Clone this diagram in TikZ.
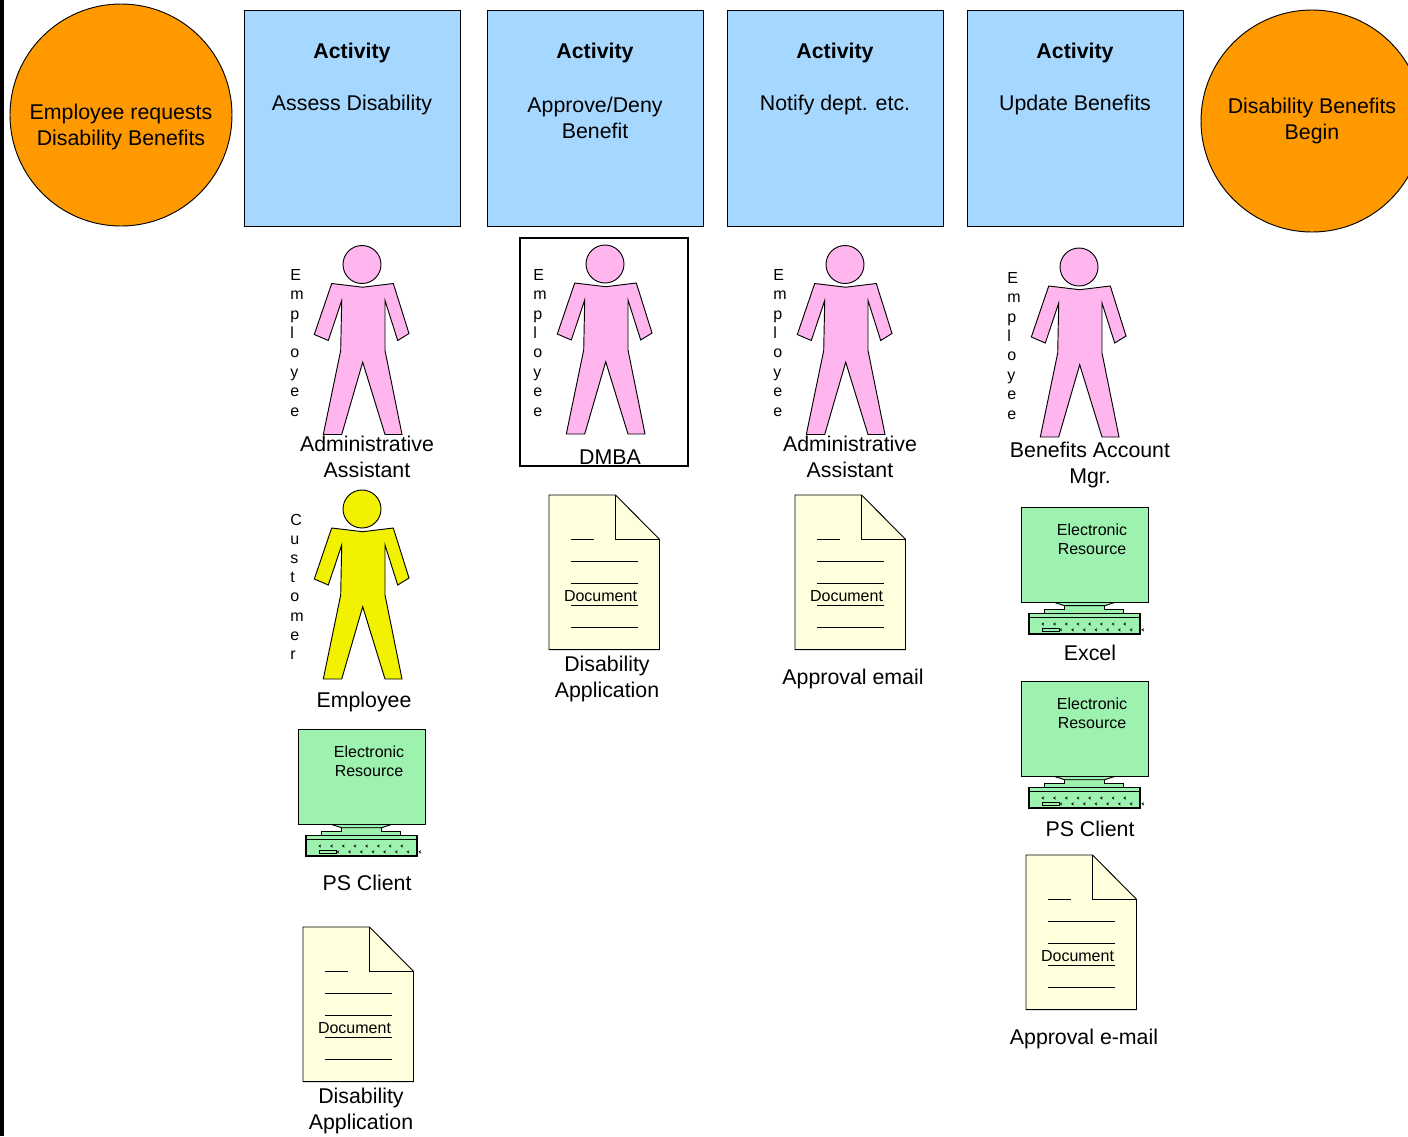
\documentclass[tikz,border=0pt]{standalone}
\usepackage{fontspec}
\setmainfont{Liberation Sans}
\definecolor{orangeC}{HTML}{FF9900}
\definecolor{blueC}{HTML}{A6D8FF}
\definecolor{pinkC}{HTML}{FFB6EE}
\definecolor{yellowC}{HTML}{F2F200}
\definecolor{greenC}{HTML}{9DF2B0}
\definecolor{creamC}{HTML}{FFFFDD}
\tikzset{
  ln/.style={draw=black,line width=0.7pt,line join=miter},
  lbl/.style={inner sep=0pt,align=center,font=\fontsize{16}{19.5}\selectfont},
  smalltxt/.style={inner sep=0pt,align=center,font=\fontsize{12}{14.5}\selectfont},
  vert/.style={inner sep=0pt,align=left,anchor=north west,font=\fontsize{12}{14.55}\selectfont},
  actbox/.style={ln,fill=blueC},
  evt/.style={ln,fill=orangeC},
}
% #1 name, #2 x of head, #3 y of head, #4 fill
\newcommand{\figperson}[4]{%
  \begin{scope}[shift={(#2,#3)}]
    \draw[ln,fill=#4] (-30.3,19) -- (0.7,22.7) -- (31.3,19) -- (47,69) -- (35.7,76) -- (23,36) -- (23,86)
      -- (40,170) -- (23,170) -- (0.7,97.7) -- (-20.3,170) -- (-38.7,170) -- (-21.3,86) -- (-20.3,36)
      -- (-33.7,76) -- (-47.7,70) -- cycle;
    \node[ln,fill=#4,circle,minimum size=28.5pt,inner sep=0pt] (#1) at (0,0) {};
  \end{scope}}
% #1 name, #2 left, #3 top, #4 dy of text
\newcommand{\figcomputer}[4]{%
  \begin{scope}[shift={(#2,#3)}]
    \draw[ln,fill=greenC] (43.7,98.7) -- (83.7,98.7) -- (83.7,102.7) -- (102,102.7) -- (102,106.7) -- (23.7,106.7) -- (23.7,102.7) -- (43.7,102.7) -- cycle;
    \draw[ln,fill=greenC] (32,95) -- (43.7,98.7) -- (83.7,98.7) -- (95,95) -- cycle;
    \node[ln,fill=greenC,minimum width=95pt,minimum height=71.5pt,inner sep=0pt,anchor=north west] (#1) at (0,0) {};
    \node[smalltxt] (#1t) at (71,32.5+#4) {Electronic\\Resource};
    \draw[ln,fill=greenC,line width=1pt] (8,106.7) rectangle (119,127);
    \draw[ln] (8,110.5) -- (119,110.5);
    \draw[ln] (21.5,121) rectangle (38,124);
    \foreach \k in {0,...,7}{
      \draw[line width=0.5pt] (23+\k*11.7,115.8) -- (21+\k*11.7,117) -- (23+\k*11.7,118.2);
      \draw[line width=0.5pt] (41+\k*11.7,121.6) -- (39+\k*11.7,122.8) -- (41+\k*11.7,124);
    }
  \end{scope}}
% #1 name, #2 left, #3 top
\newcommand{\figdoc}[3]{%
  \begin{scope}[shift={(#2,#3)}]
    \draw[ln,fill=creamC] (0,0) -- (66.5,0) -- (110.5,44.3) -- (110.5,154.6) -- (0,154.6) -- cycle;
    \draw[ln] (66.5,0) -- (66.5,44.3) -- (110.5,44.3);
    \draw[ln] (22.3,44.3) -- (44.7,44.3);
    \draw[ln] (22.3,66) -- (89,66);
    \draw[ln] (22.3,88.3) -- (89,88.3);
    \draw[ln] (22.3,110.6) -- (89,110.6);
    \draw[ln] (22.3,132.6) -- (89,132.6);
    \node[smalltxt] (#1) at (51.5,101.5) {Document};
  \end{scope}}
\begin{document}
\begin{tikzpicture}[x=0.75pt,y=-0.75pt]
\useasboundingbox (0,0) rectangle (1408,1136);
\clip (0,0) rectangle (1408,1136);
\fill[white] (0,0) rectangle (1408,1136);
\fill[black] (0,0) rectangle (4,1136);

\node[evt,circle,minimum size=166.5pt,inner sep=0pt] (start) at (121,115) {};
\node[lbl] (startt) at (121,127) {Employee requests\\Disability Benefits};
\node[evt,circle,minimum size=166.5pt,inner sep=0pt] (finish) at (1312,121) {};
\node[lbl] (finisht) at (1312,120.5) {Disability Benefits\\Begin};

\draw[actbox] (244,10) rectangle (460,226);
\draw[actbox] (487,10) rectangle (703,226);
\draw[actbox] (727,10) rectangle (943,226);
\draw[actbox] (967,10) rectangle (1183,226);
\node[lbl,font=\fontsize{16}{19.5}\selectfont\bfseries] (a1) at (352,53) {Activity};
\node[lbl,font=\fontsize{16}{19.5}\selectfont\bfseries] (a2) at (595,53) {Activity};
\node[lbl,font=\fontsize{16}{19.5}\selectfont\bfseries] (a3) at (835,53) {Activity};
\node[lbl,font=\fontsize{16}{19.5}\selectfont\bfseries] (a4) at (1075,53) {Activity};
\node[lbl] (a1t) at (352,105) {Assess Disability};
\node[lbl] (a2t) at (595,117.5) {Approve/Deny\\Benefit};
\node[lbl] (a3t) at (835,105) {Notify dept. etc.};
\node[lbl] (a4t) at (1075,105) {Update Benefits};

\draw[line width=1.5pt] (520,238) rectangle (688,466);

\figperson{p1}{362}{264.5}{pinkC}
\figperson{p2}{605}{264}{pinkC}
\figperson{p3}{845}{264.5}{pinkC}
\figperson{p4}{1079}{267}{pinkC}
\figperson{p5}{362}{509}{yellowC}

\node[vert] (v1) at (290,269) {E\\m\\p\\l\\o\\y\\e\\e};
\node[vert] (v2) at (533,269) {E\\m\\p\\l\\o\\y\\e\\e};
\node[vert] (v3) at (773,269) {E\\m\\p\\l\\o\\y\\e\\e};
\node[vert] (v4) at (1007,272) {E\\m\\p\\l\\o\\y\\e\\e};
\node[vert,font=\fontsize{12}{14.35}\selectfont] (v5) at (290,514) {C\\u\\s\\t\\o\\m\\e\\r};

\node[lbl] (l1) at (367,457) {Administrative\\Assistant};
\node[lbl] (l2) at (610,457) {DMBA};
\node[lbl] (l3) at (850,457) {Administrative\\Assistant};
\node[lbl] (l4) at (1090,465) {Benefits Account\\Mgr.};
\node[lbl] (l5) at (364,702) {Employee};

\figcomputer{c1}{298}{729}{0}
\figcomputer{c2}{1021}{507}{0}
\figcomputer{c3}{1021}{681}{-0.5}
\node[lbl] (c1l) at (367,883) {PS Client};
\node[lbl] (c2l) at (1090,653) {Excel};
\node[lbl] (c3l) at (1090,829) {PS Client};

\figdoc{d1}{303}{927}
\figdoc{d2}{549}{495}
\figdoc{d3}{795}{495}
\figdoc{d4}{1026}{855}
\node[lbl] (d1l) at (361,1110.5) {Disability\\Application};
\node[lbl] (d2l) at (607,678.5) {Disability\\Application};
\node[lbl] (d3l) at (853,679) {Approval email};
\node[lbl] (d4l) at (1084,1039) {Approval e-mail};
\end{tikzpicture}
\end{document}
